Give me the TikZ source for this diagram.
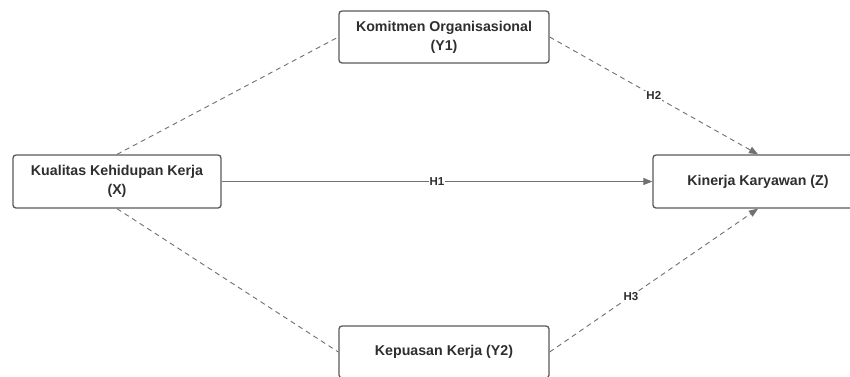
\documentclass[tikz,border=0pt]{standalone}
\usepackage{fontspec}
\setmainfont{Liberation Sans}
\usetikzlibrary{arrows.meta}
\definecolor{boxline}{HTML}{5A5A5A}
\definecolor{conn}{HTML}{707070}
\definecolor{txt}{HTML}{2E2E2E}
\tikzset{
  box/.style={draw=boxline, line width=1.3pt, rounded corners=3pt, fill=white,
    minimum width=#1, minimum height=52pt, inner sep=0pt, align=center,
    font=\fontsize{14.2pt}{19pt}\selectfont\bfseries, text=txt},
  dashconn/.style={draw=conn, line width=0.9pt, dash pattern=on 5pt off 4pt},
  solidconn/.style={draw=conn, line width=0.9pt},
  tip/.style={-{Triangle[length=9pt,width=7pt]}},
  hlabel/.style={fill=white, inner sep=1pt, font=\fontsize{11.5pt}{13pt}\selectfont\bfseries, text=txt}
}
\begin{document}
\begin{tikzpicture}[x=1pt,y=-1pt]
\useasboundingbox (0,0) rectangle (850,376);
\clip (0,0) rectangle (850,376);
\fill[white] (0,0) rectangle (850,376);
\node[box=208pt, minimum height=53pt] (X) at (117,181.5) {Kualitas Kehidupan Kerja\\(X)};
\node[box=210pt] (Y1) at (444,37) {Komitmen Organisasional\\(Y1)};
\node[box=210pt] (Y2) at (444,352) {Kepuasan Kerja (Y2)};
\node[box=210pt, minimum height=53pt] (Z) at (758,181.5) {Kinerja Karyawan (Z)};
\draw[dashconn] (X.north) -- (Y1.west);
\draw[dashconn] (X.south) -- (Y2.west);
\draw[dashconn, tip] (Y1.east) -- node[hlabel, pos=0.5] {H2} (Z.north);
\draw[dashconn, tip] (Y2.east) -- node[hlabel, pos=0.39] {H3} (Z.south);
\draw[solidconn, tip] (X.east) -- node[hlabel, pos=0.5] {H1} (Z.west);
\end{tikzpicture}
\end{document}
